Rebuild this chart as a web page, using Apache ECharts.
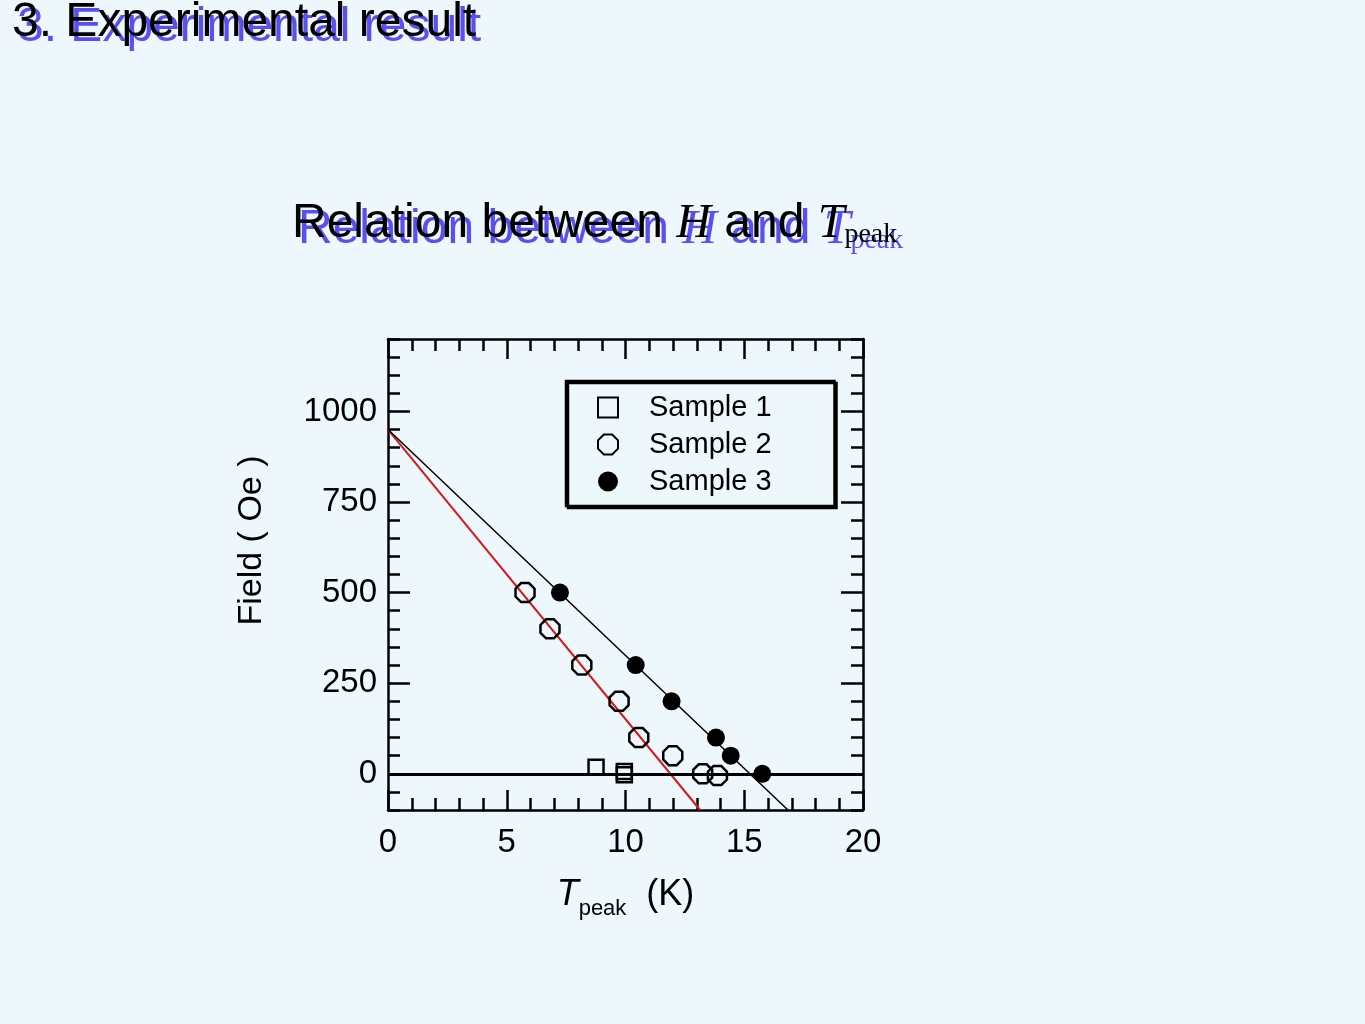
<!DOCTYPE html>
<html>
<head>
<meta charset="utf-8">
<script src="https://cdn.jsdelivr.net/npm/echarts@6/dist/echarts.min.js"></script>
<style>
html,body{margin:0;padding:0;background:#eef8fc;}
#chart{width:1365px;height:1024px;}
</style>
</head>
<body>
<div id="chart"></div>
<script>
// ---- data ----
const sample1 = [[8.76, 18], [9.95, 6], [9.95, -3]];
const sample2 = [[5.77, 500], [6.82, 400], [8.16, 300], [9.73, 200], [10.56, 100], [11.99, 50], [13.25, 0], [13.87, -5]];
const sample3 = [[7.24, 500], [10.43, 300], [11.94, 200], [13.81, 100], [14.43, 50], [15.76, 0]];
const fitSample2 = [[0, 950], [13.14, -100]];
const fitSample3 = [[0, 950], [16.84, -100]];
const yMajorTicks = [0, 250, 500, 750, 1000];
const seriesNames = ['Sample 1', 'Sample 2', 'Sample 3'];

const SANS = '"Liberation Sans", Arial, sans-serif';
const SERIF = '"Liberation Serif", "Times New Roman", serif';
const BLUE = '#5a50f2';
const BG = '#eef8fc';
const OCT = 'path://M29.3,0L70.7,0L100,29.3L100,70.7L70.7,100L29.3,100L0,70.7L0,29.3Z';

function headRich(color) {
  return {
    s: {fontFamily: SANS, fontWeight: 'normal', fontSize: 48, color: color, lineHeight: 50, verticalAlign: 'middle'},
    h: {fontFamily: SERIF, fontWeight: 'normal', fontStyle: 'italic', fontSize: 48, color: color, lineHeight: 50, verticalAlign: 'middle'},
    sub: {fontFamily: SERIF, fontWeight: 'normal', fontSize: 28, color: color, lineHeight: 50, verticalAlign: 'bottom'}
  };
}
const headText = '{s|Relation between }{h|H}{s| and }{h|T}{sub|peak}';

const chart = echarts.init(document.getElementById('chart'));

const TW = 2.5;
const axisCommon = {
  axisLine: {show: true, onZero: false, lineStyle: {color: '#000', width: TW}},
  splitLine: {show: false}
};

chart.setOption({
  backgroundColor: BG,
  animation: false,
  title: [
    {text: '3. Experimental result', left: 17, top: 4, padding: 0,
     textStyle: {color: BLUE, fontSize: 48, fontWeight: 'normal', fontFamily: SANS}},
    {text: '3. Experimental result', left: 12, top: -1, padding: 0,
     textStyle: {color: '#000', fontSize: 48, fontWeight: 'normal', fontFamily: SANS}},
    {text: headText, left: 298, top: 205, padding: 0, textStyle: {fontWeight: 'normal', rich: headRich(BLUE)}},
    {text: headText, left: 292, top: 199, padding: 0, textStyle: {fontWeight: 'normal', rich: headRich('#000')}}
  ],
  legend: {
    data: seriesNames,
    orient: 'vertical',
    left: 566, top: 381,
    padding: [12, 63, 10, 31],
    itemGap: 8,
    itemWidth: 20, itemHeight: 20,
    textStyle: {fontFamily: SANS, fontSize: 29, color: '#000', padding: [0, 0, 0, 26]},
    backgroundColor: BG,
    borderColor: '#000', borderWidth: 2.5, borderRadius: 0,
    shadowColor: '#000', shadowBlur: 0, shadowOffsetX: 2, shadowOffsetY: 2,
    selectedMode: false
  },
  grid: {left: 388, top: 339, width: 475, height: 471, containLabel: false},
  xAxis: [
    Object.assign({}, axisCommon, {
      type: 'value', position: 'bottom', min: 0, max: 20, interval: 5,
      axisTick: {show: true, inside: true, length: 20, lineStyle: {color: '#000', width: TW}},
      minorTick: {show: true, splitNumber: 5, length: 12, lineStyle: {color: '#000', width: TW}},
      axisLabel: {fontFamily: SANS, fontSize: 33, color: '#000', margin: 16},
      name: '{i|T}{sub|peak}{n|  (K)}',
      nameLocation: 'middle', nameGap: 60,
      nameTextStyle: {rich: {
        i: {fontFamily: SANS, fontStyle: 'italic', fontSize: 36, color: '#000', lineHeight: 50, verticalAlign: 'middle'},
        sub: {fontFamily: SANS, fontSize: 22, color: '#000', lineHeight: 50, verticalAlign: 'bottom'},
        n: {fontFamily: SANS, fontSize: 36, color: '#000', lineHeight: 50, verticalAlign: 'middle'}
      }}
    }),
    Object.assign({}, axisCommon, {
      type: 'value', position: 'top', min: 0, max: 20, interval: 5,
      axisTick: {show: true, inside: true, length: 20, lineStyle: {color: '#000', width: TW}},
      minorTick: {show: true, splitNumber: 5, length: 12, lineStyle: {color: '#000', width: TW}},
      axisLabel: {show: false}
    })
  ],
  yAxis: [
    Object.assign({}, axisCommon, {
      type: 'value', position: 'left', min: -100, max: 1200, interval: 50,
      axisTick: {show: true, inside: true, length: 12, lineStyle: {color: '#000', width: TW}},
      axisLabel: {fontFamily: SANS, fontSize: 33, color: '#000', margin: 11, customValues: yMajorTicks,
                  formatter: function (v) { return String(v); }},
      name: 'Field ( Oe )', nameLocation: 'middle', nameGap: 119, nameRotate: 90,
      nameTextStyle: {fontFamily: SANS, fontSize: 34, color: '#000', padding: [0, 0, 0, 68]}
    }),
    {
      type: 'value', position: 'left', min: -100, max: 1200,
      axisLine: {show: false, onZero: false}, splitLine: {show: false},
      axisTick: {show: true, inside: true, length: 22, customValues: yMajorTicks, lineStyle: {color: '#000', width: TW}},
      axisLabel: {show: false}
    },
    Object.assign({}, axisCommon, {
      type: 'value', position: 'right', min: -100, max: 1200, interval: 50,
      axisTick: {show: true, inside: true, length: 12, lineStyle: {color: '#000', width: TW}},
      axisLabel: {show: false}
    }),
    {
      type: 'value', position: 'right', min: -100, max: 1200,
      axisLine: {show: false, onZero: false}, splitLine: {show: false},
      axisTick: {show: true, inside: true, length: 22, customValues: yMajorTicks, lineStyle: {color: '#000', width: TW}},
      axisLabel: {show: false}
    }
  ],
  series: [
    {
      type: 'line', data: fitSample2, symbol: 'none', silent: true,
      lineStyle: {color: '#d41a1a', width: 2}, clip: true, z: 1
    },
    {
      type: 'line', data: fitSample3, symbol: 'none', silent: true,
      lineStyle: {color: '#000', width: 1.5}, clip: true, z: 1,
      markLine: {
        silent: true, symbol: 'none', label: {show: false},
        lineStyle: {color: '#000', width: 3, type: 'solid'},
        data: [{yAxis: 0}]
      }
    },
    {
      name: seriesNames[0], type: 'scatter', data: sample1, symbol: 'rect', symbolSize: 15,
      itemStyle: {color: 'rgba(0,0,0,0)', borderColor: '#000', borderWidth: 2.5, opacity: 1}, z: 3
    },
    {
      name: seriesNames[1], type: 'scatter', data: sample2, symbol: OCT, symbolSize: 19,
      itemStyle: {color: 'rgba(0,0,0,0)', borderColor: '#000', borderWidth: 2.5, opacity: 1}, z: 3
    },
    {
      name: seriesNames[2], type: 'scatter', data: sample3, symbol: 'circle', symbolSize: 18,
      itemStyle: {color: '#000', borderColor: '#000', borderWidth: 0, opacity: 1}, z: 3
    }
  ]
});
</script>
</body>
</html>
